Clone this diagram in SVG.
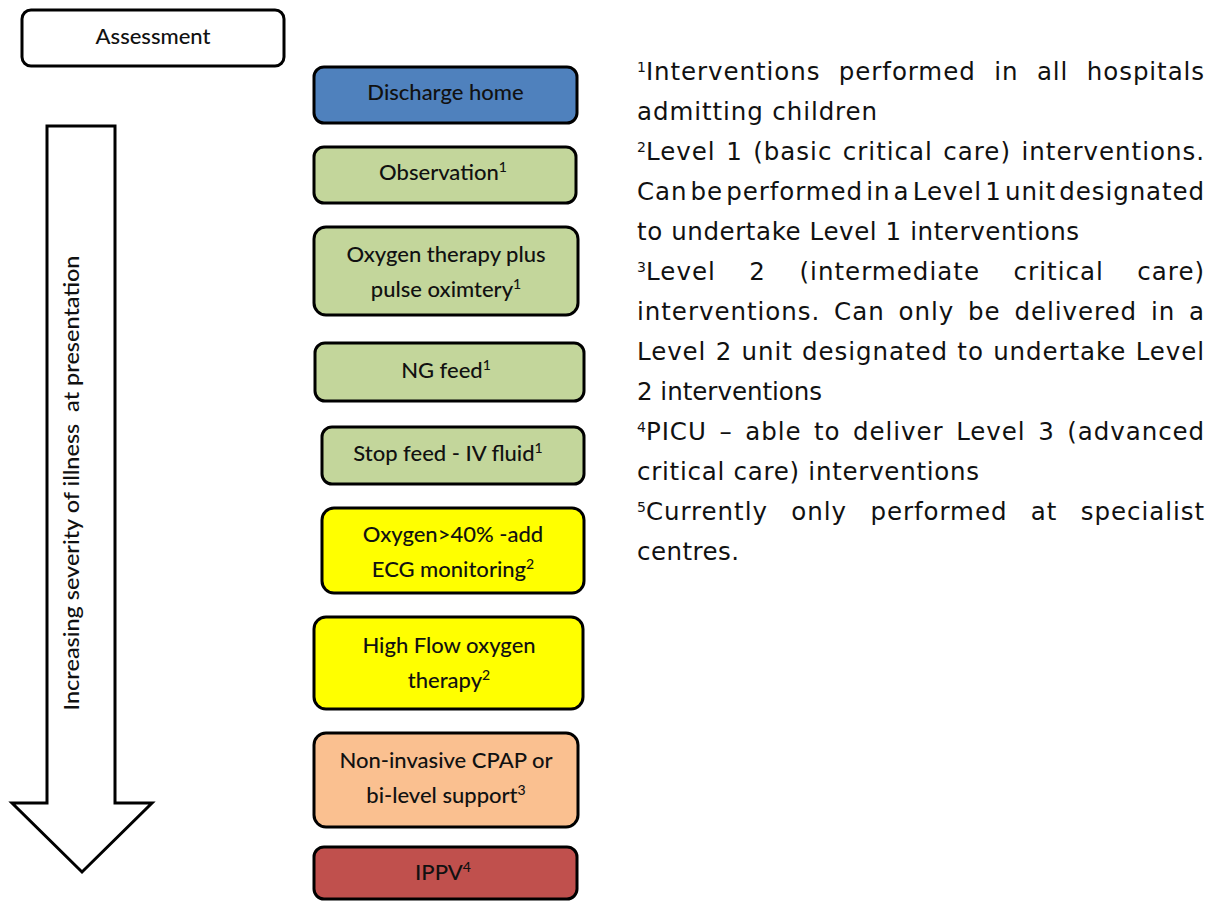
<svg xmlns="http://www.w3.org/2000/svg" width="1221" height="902" viewBox="0 0 1221 902">
<style>
.box{stroke:#000;stroke-width:3;}
.bt{font-family:Lato,"Liberation Sans",sans-serif;font-size:22px;font-weight:500;fill:#111;text-anchor:middle;}
.sup{font-size:14px;}
.note{font-family:"DejaVu Sans","Liberation Sans",sans-serif;font-size:24.5px;fill:#111;letter-spacing:0.9px;}
.ns{font-size:14px;letter-spacing:0;}
</style>
<rect width="1221" height="902" fill="#fff"/>
<g id="assessment">
<rect class="box" x="22" y="10" width="262" height="56" rx="9" fill="#fff"/>
<text class="bt" x="153" y="44">Assessment</text>
</g>
<g id="severity-arrow">
<polygon points="47,126 115,126 115,803 152,803 82,872 12,803 47,803" fill="#fff" stroke="#000" stroke-width="3"/>
<text class="bt" transform="translate(79,483) rotate(-90)" x="0" y="0" textLength="455" lengthAdjust="spacingAndGlyphs" xml:space="preserve">Increasing severity of illness  at presentation</text>
</g>
<g id="discharge">
<rect class="box" x="314" y="67" width="263" height="56" rx="10" fill="#4F81BD"/>
<text class="bt" x="445.5" y="100">Discharge home</text>
</g>
<g id="observation">
<rect class="box" x="314" y="147" width="262" height="56" rx="10" fill="#C3D69B"/>
<text class="bt" x="443" y="180">Observation<tspan class="sup" dy="-8">1</tspan></text>
</g>
<g id="oxygen-therapy">
<rect class="box" x="314" y="227" width="264" height="88" rx="12" fill="#C3D69B"/>
<text class="bt" x="446" y="262">Oxygen therapy plus</text>
<text class="bt" x="446" y="297">pulse oximtery<tspan class="sup" dy="-8">1</tspan></text>
</g>
<g id="ng-feed">
<rect class="box" x="315" y="343" width="269" height="58" rx="10" fill="#C3D69B"/>
<text class="bt" x="446" y="378">NG feed<tspan class="sup" dy="-8">1</tspan></text>
</g>
<g id="stop-feed">
<rect class="box" x="322" y="427" width="262" height="57" rx="10" fill="#C3D69B"/>
<text class="bt" x="448" y="461">Stop feed - IV fluid<tspan class="sup" dy="-8">1</tspan></text>
</g>
<g id="oxygen-40">
<rect class="box" x="322" y="508" width="262" height="85" rx="12" fill="#FFFF00"/>
<text class="bt" x="453" y="542">Oxygen&gt;40% -add</text>
<text class="bt" x="453" y="577">ECG monitoring<tspan class="sup" dy="-8">2</tspan></text>
</g>
<g id="high-flow">
<rect class="box" x="314" y="617" width="269" height="92" rx="12" fill="#FFFF00"/>
<text class="bt" x="449" y="653">High Flow oxygen</text>
<text class="bt" x="449" y="688">therapy<tspan class="sup" dy="-8">2</tspan></text>
</g>
<g id="cpap">
<rect class="box" x="314" y="733" width="264" height="94" rx="12" fill="#FAC090"/>
<text class="bt" x="446" y="768">Non-invasive CPAP or</text>
<text class="bt" x="446" y="803">bi-level support<tspan class="sup" dy="-8">3</tspan></text>
</g>
<g id="ippv">
<rect class="box" x="314" y="847" width="263" height="52" rx="10" fill="#C0504D"/>
<text class="bt" x="443" y="880">IPPV<tspan class="sup" dy="-8">4</tspan></text>
</g>
<g id="connectors"></g>
<g id="notes">
<text class="note" x="637" y="80" word-spacing="9.8" textLength="568" lengthAdjust="spacing"><tspan class="ns" dy="-8">1</tspan><tspan dy="8">Interventions performed in all hospitals</tspan></text>
<text class="note" x="637" y="120" textLength="241" lengthAdjust="spacing">admitting children</text>
<text class="note" x="637" y="160" word-spacing="1.7" textLength="568" lengthAdjust="spacing"><tspan class="ns" dy="-8">2</tspan><tspan dy="8">Level 1 (basic critical care) interventions.</tspan></text>
<text class="note" x="637" y="200" word-spacing="-5.5" textLength="568" lengthAdjust="spacing">Can be performed in a Level 1 unit designated</text>
<text class="note" x="637" y="240" textLength="443" lengthAdjust="spacing">to undertake Level 1 interventions</text>
<text class="note" x="637" y="280" word-spacing="24.7" textLength="568" lengthAdjust="spacing"><tspan class="ns" dy="-8">3</tspan><tspan dy="8">Level 2 (intermediate critical care)</tspan></text>
<text class="note" x="637" y="320" word-spacing="5.1" textLength="568" lengthAdjust="spacing">interventions. Can only be delivered in a</text>
<text class="note" x="637" y="360" word-spacing="0.6" textLength="568" lengthAdjust="spacing">Level 2 unit designated to undertake Level</text>
<text class="note" x="637" y="400" textLength="186" lengthAdjust="spacing">2 interventions</text>
<text class="note" x="637" y="440" word-spacing="3.9" textLength="568" lengthAdjust="spacing"><tspan class="ns" dy="-8">4</tspan><tspan dy="8">PICU – able to deliver Level 3 (advanced</tspan></text>
<text class="note" x="637" y="480" textLength="343" lengthAdjust="spacing">critical care) interventions</text>
<text class="note" x="637" y="520" word-spacing="14.7" textLength="568" lengthAdjust="spacing"><tspan class="ns" dy="-8">5</tspan><tspan dy="8">Currently only performed at specialist</tspan></text>
<text class="note" x="637" y="560" textLength="103" lengthAdjust="spacing">centres.</text>
</g>
</svg>
